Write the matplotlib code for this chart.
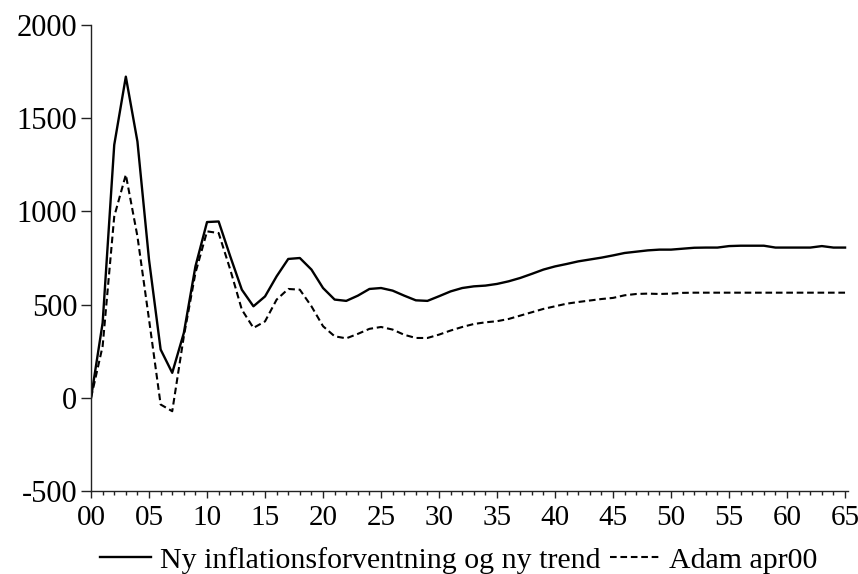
import matplotlib
matplotlib.use("Agg")
import matplotlib.pyplot as plt
from matplotlib.ticker import MultipleLocator

periods = list(range(0, 66))

ny_inflation = [0, 402, 1357, 1723, 1375, 740, 259, 134, 348, 705,
                943, 946, 759, 580, 491, 544, 652, 745, 750, 688,
                589, 527, 520, 548, 584, 589, 575, 548, 523, 520,
                545, 571, 589, 598, 602, 611, 625, 643, 665, 688,
                705, 718, 732, 742, 752, 764, 777, 784, 791, 795,
                795, 800, 805, 806, 806, 814, 816, 816, 816, 806,
                806, 806, 806, 814, 806, 806]

adam_apr00 = [0, 277, 973, 1197, 866, 420, -36, -72, 330, 670,
              893, 884, 688, 473, 375, 410, 527, 584, 580, 491,
              384, 330, 319, 343, 370, 380, 366, 338, 321, 321,
              339, 361, 380, 396, 405, 411, 423, 441, 459, 477,
              491, 505, 514, 522, 530, 536, 550, 557, 559, 557,
              559, 563, 564, 564, 564, 564, 564, 564, 564, 564,
              564, 564, 564, 564, 564, 564]

x_tick_labels = ["00", "05", "10", "15", "20", "25", "30", "35", "40",
                 "45", "50", "55", "60", "65"]
y_ticks = [-500, 0, 500, 1000, 1500, 2000]

label_solid = "Ny inflationsforventning og ny trend"
label_dashed = "Adam apr00"

plt.rcParams['font.family'] = ['Liberation Serif', 'DejaVu Serif']

fig = plt.figure(figsize=(8.58, 5.74), dpi=100)
ax = fig.add_axes([0.1061, 0.1446, 0.8822, 0.8118])

ax.plot(periods, ny_inflation, color="black", lw=1.7, linestyle="-",
        label=label_solid)
ax.plot(periods, adam_apr00, color="black", lw=1.5, linestyle=(0, (3.2, 1.8)),
        label=label_dashed)

ax.set_xlim(0, 65.25)
ax.set_ylim(-500, 2000)
ax.set_yticks(y_ticks)
ax.set_yticklabels([str(v) for v in y_ticks], fontsize=22)
ax.set_xticks(list(range(0, 66, 5)))
ax.set_xticklabels(x_tick_labels, fontsize=21)
ax.xaxis.set_minor_locator(MultipleLocator(1))

for s in ["top", "right"]:
    ax.spines[s].set_visible(False)
for s in ["left", "bottom"]:
    ax.spines[s].set_linewidth(1.0)
    ax.spines[s].set_color("#222222")

ax.tick_params(axis="y", direction="out", length=7, width=1.0, color="#222222", pad=3)
ax.tick_params(axis="x", which="major", direction="out", length=5, width=1.0,
               color="#222222", pad=5)
ax.tick_params(axis="x", which="minor", direction="out", length=3, width=1.0,
               color="#222222")

fig.legend(loc="center", bbox_to_anchor=(0.535, 0.024), ncol=2, frameon=False,
           fontsize=21.5, handlelength=1.7, handletextpad=0.3, columnspacing=0.3,
           borderaxespad=0, borderpad=0)

fig.savefig("out.png", dpi=100)
